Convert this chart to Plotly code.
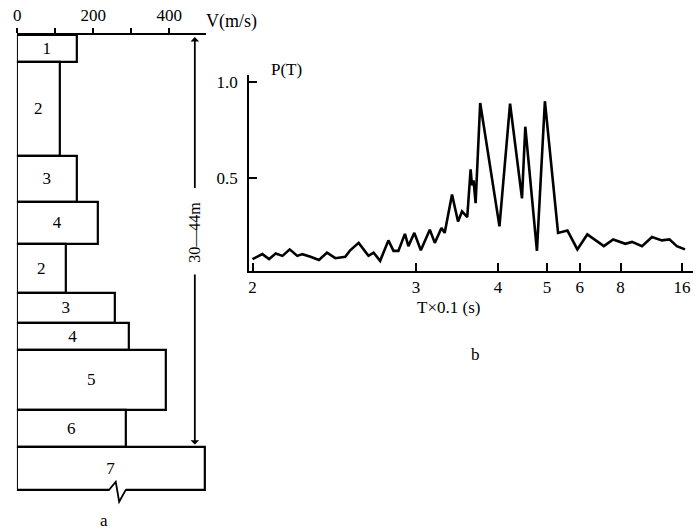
import numpy as np
import plotly.graph_objects as go

# ---------------- data: panel a (velocity profile) ----------------
layer_labels = ["1", "2", "3", "4", "2", "3", "4", "5", "6", "7"]
layer_velocity = [158, 112, 158, 213, 127, 257, 294, 390, 285, 494]          # m/s
layer_bounds = [0.0, 2.4, 10.9, 15.0, 18.8, 23.2, 25.9, 28.3, 33.7, 37.0, 40.9]  # depth (m)
v_ticks = [0, 100, 200, 300, 400]
v_ticktext = ["0", "", "200", "", "400"]

# ---------------- data: panel b (P(T) curve) ----------------
T_vals = [2.00, 2.041, 2.070, 2.099, 2.130, 2.164, 2.201, 2.226, 2.268, 2.313,
          2.358, 2.406, 2.466, 2.497, 2.552, 2.619, 2.655, 2.703, 2.766, 2.806,
          2.846, 2.901, 2.931, 2.984, 3.044, 3.131, 3.182, 3.252, 3.287, 3.370,
          3.441, 3.490, 3.556, 3.600, 3.618, 3.639, 3.667, 3.731, 4.026, 4.209,
          4.436, 4.503, 4.757, 4.948, 5.300, 5.583, 5.917, 6.293, 7.042, 7.547,
          8.326, 8.826, 9.699, 10.75, 12.06, 13.30, 14.77, 16.86]
P_vals = [0.076, 0.102, 0.076, 0.105, 0.093, 0.127, 0.093, 0.102, 0.088, 0.071,
          0.110, 0.081, 0.088, 0.122, 0.161, 0.093, 0.110, 0.067, 0.174, 0.119,
          0.119, 0.208, 0.144, 0.213, 0.122, 0.230, 0.161, 0.239, 0.213, 0.414,
          0.273, 0.325, 0.295, 0.545, 0.462, 0.488, 0.368, 0.892, 0.247, 0.888,
          0.393, 0.768, 0.119, 0.901, 0.213, 0.225, 0.127, 0.205, 0.144, 0.179,
          0.156, 0.166, 0.144, 0.192, 0.174, 0.179, 0.144, 0.127]
T_ticks = [2, 3, 4, 5, 6, 8, 16]
P_ticks = [0.5, 1.0]
P_ticktext = ["0.5", "1.0"]

SERIF = "Liberation Serif"

bounds = np.array(layer_bounds)
centers = (bounds[:-1] + bounds[1:]) / 2
thick = bounds[1:] - bounds[:-1]

fig = go.Figure()

fig.add_trace(go.Bar(
    x=layer_velocity, y=centers, width=thick, base=0, orientation="h",
    marker=dict(color="white", line=dict(color="black", width=2.2)),
    text=layer_labels, textposition="inside", insidetextanchor="middle",
    textangle=0, constraintext="none",
    textfont=dict(family=SERIF, size=17, color="black"),
    xaxis="x", yaxis="y", showlegend=False, hoverinfo="skip",
))

freq = 1.0 / np.array(T_vals)
fig.add_trace(go.Scatter(
    x=freq, y=P_vals, mode="lines",
    line=dict(color="black", width=2.6),
    xaxis="x2", yaxis="y2", showlegend=False, hoverinfo="skip",
))

W, H = 693, 531

fig.update_layout(
    width=W, height=H,
    margin=dict(l=0, r=0, t=0, b=0),
    paper_bgcolor="white", plot_bgcolor="rgba(0,0,0,0)",
    font=dict(family=SERIF, size=17, color="black"),
    bargap=0,
    xaxis=dict(
        domain=[13.0 / W, 203.4 / W], range=[-1, 497], side="top",
        anchor="y", showgrid=False, zeroline=False,
        showline=True, linecolor="black", linewidth=2,
        ticks="outside", ticklen=5, tickwidth=1.5, tickcolor="black",
        tickvals=v_ticks, ticktext=v_ticktext,
        tickfont=dict(family=SERIF, size=17),
    ),
    yaxis=dict(
        domain=[1 - 507.8 / H, 1 - 33 / H], range=[42.5, 0],
        anchor="x", showgrid=False, zeroline=False, showline=False,
        showticklabels=False, ticks="",
    ),
    xaxis2=dict(
        domain=[246.7 / W, 1.0], range=[0.5033, 0.0512],
        anchor="y2", showgrid=False, zeroline=False,
        showline=True, linecolor="black", linewidth=2.2,
        ticks="inside", ticklen=8, tickwidth=2, tickcolor="black",
        tickvals=[1.0 / t for t in T_ticks], ticktext=[str(t) for t in T_ticks],
        tickfont=dict(family=SERIF, size=17),
    ),
    yaxis2=dict(
        domain=[1 - 270 / H, 1 - 73.3 / H], range=[0.014, 1.038],
        anchor="x2", showgrid=False, zeroline=False,
        showline=True, linecolor="black", linewidth=2.2,
        ticks="inside", ticklen=8, tickwidth=2, tickcolor="black",
        tickvals=P_ticks, ticktext=P_ticktext,
        tickfont=dict(family=SERIF, size=17),
        ticklabelstandoff=6,
    ),
)

# break symbol at the bottom of layer 7
fig.add_shape(type="line", xref="x", yref="y", x0=241, x1=285, y0=40.9, y1=40.9,
              line=dict(color="white", width=4))
fig.add_shape(type="path", xref="x", yref="y",
              path="M 230,40.9 L 241,40.9 L 259,40.15 L 268,41.95 L 285,40.9 L 296,40.9",
              line=dict(color="black", width=1.8))

# dimension line 30—44 m
dim_v = 467
fig.add_annotation(xref="x", yref="y", axref="x", ayref="y",
                   x=dim_v, y=0.2, ax=dim_v, ay=13.9, text="", showarrow=True,
                   arrowhead=1, arrowsize=0.8, arrowwidth=1.8, arrowcolor="black")
fig.add_annotation(xref="x", yref="y", axref="x", ayref="y",
                   x=dim_v, y=36.8, ax=dim_v, ay=21.4, text="", showarrow=True,
                   arrowhead=1, arrowsize=0.8, arrowwidth=1.8, arrowcolor="black")
fig.add_annotation(xref="x", yref="y", x=dim_v, y=17.7, text="30—44m",
                   textangle=-90, showarrow=False, xanchor="center", yanchor="middle",
                   font=dict(family=SERIF, size=16, color="black"))

# text labels
def label(txt, px, py, size=17):
    fig.add_annotation(xref="paper", yref="paper", x=px / W, y=1 - py / H,
                       text=txt, showarrow=False, xanchor="center", yanchor="middle",
                       font=dict(family=SERIF, size=size, color="black"))

label("V(m/s)", 229, 20, 18)
label("P(T)", 284, 68)
label("T×0.1 (s)", 447, 307)
label("b", 474, 354)
label("a", 101, 520)

fig.write_html("out.html", config={"displayModeBar": False},
               post_script="document.body.style.margin='0px';")
